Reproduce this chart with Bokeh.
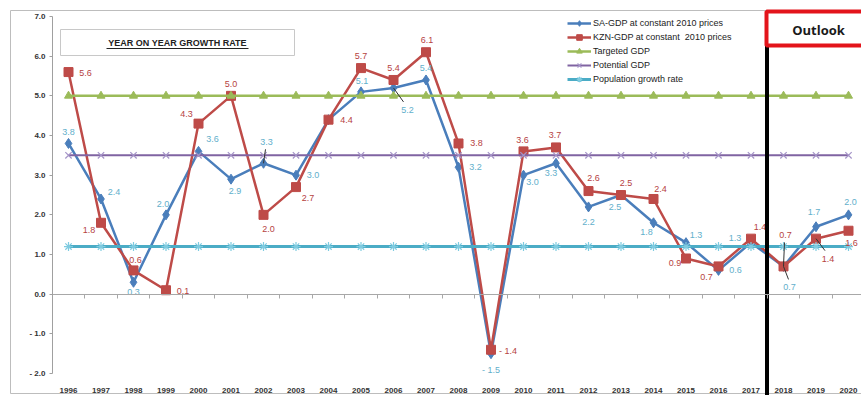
from bokeh.plotting import figure
from bokeh.models import LinearAxis, FixedTicker, Range1d, Legend, LegendItem
from bokeh.core.properties import value
from bokeh.embed import file_html
from bokeh.resources import INLINE

# ---------------- data ----------------
years = [1996, 1997, 1998, 1999, 2000, 2001, 2002, 2003, 2004, 2005, 2006, 2007, 2008,
         2009, 2010, 2011, 2012, 2013, 2014, 2015, 2016, 2017, 2018, 2019, 2020]
sa_gdp = [3.8, 2.4, 0.3, 2.0, 3.6, 2.9, 3.3, 3.0, 4.4, 5.1, 5.2, 5.4, 3.2,
          -1.5, 3.0, 3.3, 2.2, 2.5, 1.8, 1.3, 0.6, 1.3, 0.7, 1.7, 2.0]
kzn_gdp = [5.6, 1.8, 0.6, 0.1, 4.3, 5.0, 2.0, 2.7, 4.4, 5.7, 5.4, 6.1, 3.8,
           -1.4, 3.6, 3.7, 2.6, 2.5, 2.4, 0.9, 0.7, 1.4, 0.7, 1.4, 1.6]
targeted_gdp = [5.0, 5.0, 5.0, 5.0, 5.0, 5.0, 5.0, 5.0, 5.0, 5.0, 5.0, 5.0, 5.0,
                5.0, 5.0, 5.0, 5.0, 5.0, 5.0, 5.0, 5.0, 5.0, 5.0, 5.0, 5.0]
potential_gdp = [3.5, 3.5, 3.5, 3.5, 3.5, 3.5, 3.5, 3.5, 3.5, 3.5, 3.5, 3.5, 3.5,
                 3.5, 3.5, 3.5, 3.5, 3.5, 3.5, 3.5, 3.5, 3.5, 3.5, 3.5, 3.5]
population_growth = [1.2, 1.2, 1.2, 1.2, 1.2, 1.2, 1.2, 1.2, 1.2, 1.2, 1.2, 1.2, 1.2,
                     1.2, 1.2, 1.2, 1.2, 1.2, 1.2, 1.2, 1.2, 1.2, 1.2, 1.2, 1.2]
y_ticks = [-2, -1, 0, 1, 2, 3, 4, 5, 6, 7]
series_names = ["SA-GDP at constant 2010 prices", "KZN-GDP at constant  2010 prices",
                "Targeted GDP", "Potential GDP", "Population growth rate"]
sa_unlabelled = [2004]

# ---------------- label placement (screen px offsets) ----------------
sa_dx = [0, 13, 0, -3, 14, 4, 3, 17, 0, 1, 14, 0, 17, 0, 9, -5, 0, -6, -7, 10, 17, -16, 6, -2, 2]
sa_dy = [-11, -7, 10, -11, -12, 12, -21, 0, 0, -11, 22, -12, 0, 16, 7, 10, 15, 12, 9, -8, 0, -5, 21, -15, -13]
kzn_dx = [17, -12, 2, 17, -12, 0, 5, 12, 18, 0, 0, 1, 18, 17, -1, -1, 5, 5, 7, -11, -12, 9, 2, 12, 3]
kzn_dy = [1, 7, -10, 1, -10, -12, 14, 11, 0, -12, -12, -12, 0, 1, -11, -12, -13, -12, -10, 5, 11, -12, -31, 20, 12]
sa_leaders = {2002: (2, -14), 2006: (10, 14), 2018: (5, 13)}
kzn_leaders = {2018: (1, -24), 2019: (9, 12)}

# ---------------- styling ----------------
SA_C, KZN_C = "#4A7EBB", "#BE4B48"
TGT_C, POT_C, POP_C = "#9BBB59", "#8064A2", "#4BACC6"
SA_LBL, KZN_LBL = "#62AFCB", "#B6423F"
FONT = "Liberation Sans"

W, H = 861, 395
PXX, PXY = 32.5, 39.67
X0 = 1996 - 68 / PXX
YT = 293.7 / PXY


def xpx(px):
    return X0 + px / PXX


def ypx(py):
    return YT - py / PXY


p = figure(width=W, height=H, output_backend="svg", toolbar_location=None,
           x_range=Range1d(X0, X0 + W / PXX), y_range=Range1d(YT - H / PXY, YT),
           x_axis_type=None, y_axis_type=None, min_border=0,
           min_border_left=0, min_border_right=0, min_border_top=0, min_border_bottom=0,
           outline_line_color=None, background_fill_color="white", border_fill_color="white")
p.grid.visible = False

# outer chart border and title box
p.quad(left=xpx(10), right=xpx(880), top=ypx(10), bottom=ypx(393),
       fill_color=None, line_color="#BDBDBD", line_width=1)
p.quad(left=xpx(60), right=xpx(294), top=ypx(29), bottom=ypx(55),
       fill_color="white", line_color="#C8C8C8", line_width=1)
p.text(x=[xpx(177)], y=[ypx(42)], text=["YEAR ON YEAR GROWTH RATE"],
       text_align="center", text_baseline="middle", text_font=value(FONT),
       text_font_size="9px", text_font_style="bold", text_color="#222222")
p.segment(x0=[xpx(106)], y0=[ypx(48)], x1=[xpx(248)], y1=[ypx(48)],
          line_color="#222222", line_width=1)

# axes
yaxis = LinearAxis(fixed_location=xpx(52), bounds=(-2, 7),
                   ticker=FixedTicker(ticks=y_ticks),
                   major_label_overrides={t: ("- %.1f" % abs(t) if t < 0 else "%.1f" % t) for t in y_ticks},
                   axis_line_color="#A0A0A0", major_tick_line_color="#A0A0A0",
                   major_tick_out=3, major_tick_in=0, minor_tick_line_color=None,
                   major_label_text_font=FONT, major_label_text_font_size="8px",
                   major_label_text_font_style="bold", major_label_text_color="#333333",
                   major_label_standoff=4)
p.add_layout(yaxis, "left")

mid_ticks = [y + 0.5 for y in years[:-1]]
zaxis = LinearAxis(fixed_location=0, bounds=(X0 + 52 / PXX, X0 + W / PXX),
                   ticker=FixedTicker(ticks=mid_ticks),
                   major_label_overrides={t: "" for t in mid_ticks},
                   axis_line_color="#A8A8A8", major_tick_line_color="#A8A8A8",
                   major_tick_out=4, major_tick_in=0, minor_tick_line_color=None)
p.add_layout(zaxis, "below")

xaxis = LinearAxis(fixed_location=ypx(380), ticker=FixedTicker(ticks=years),
                   major_label_overrides={y: str(y) for y in years},
                   axis_line_color=None, major_tick_line_color=None, minor_tick_line_color=None,
                   major_label_text_font=FONT, major_label_text_font_size="8px",
                   major_label_text_font_style="bold", major_label_text_color="#333333",
                   major_label_standoff=1)
p.add_layout(xaxis, "below")

# series
r_sa_l = p.line(years, sa_gdp, line_color=SA_C, line_width=2.5)
r_sa_m = p.scatter(years, sa_gdp, marker="diamond", size=10, color=SA_C)
r_kz_l = p.line(years, kzn_gdp, line_color=KZN_C, line_width=2.5)
r_kz_m = p.scatter(years, kzn_gdp, marker="square", size=9, color=KZN_C)
r_tg_l = p.line(years, targeted_gdp, line_color=TGT_C, line_width=2.5)
r_tg_m = p.scatter(years, targeted_gdp, marker="triangle", size=8, color=TGT_C)
r_pt_l = p.line(years, potential_gdp, line_color=POT_C, line_width=2)
r_pt_m = p.scatter(years, potential_gdp, marker="x", size=9, line_color="#A594C8", line_width=1.2)
r_pp_l = p.line(years, population_growth, line_color=POP_C, line_width=3)
r_pp_m = p.scatter(years, population_growth, marker="asterisk", size=9, line_color="#7FCBE0", line_width=1.2)


def fmt(v):
    return ("- %.1f" % abs(v)) if v < 0 else "%.1f" % v


# leader lines
for leaders, vals in ((sa_leaders, sa_gdp), (kzn_leaders, kzn_gdp)):
    xs0, ys0, xs1, ys1 = [], [], [], []
    for yr, (dx, dy) in leaders.items():
        v = vals[years.index(yr)]
        xs0.append(yr)
        ys0.append(v)
        xs1.append(yr + dx / PXX)
        ys1.append(v - dy / PXY)
    p.segment(x0=xs0, y0=ys0, x1=xs1, y1=ys1, line_color="#333333", line_width=1)

# data labels
sa_idx = [i for i, y in enumerate(years) if y not in sa_unlabelled]
p.text(x=[years[i] for i in sa_idx], y=[sa_gdp[i] for i in sa_idx],
       text=[fmt(sa_gdp[i]) for i in sa_idx],
       x_offset=[sa_dx[i] for i in sa_idx], y_offset=[sa_dy[i] for i in sa_idx],
       text_align="center", text_baseline="middle", text_font=value(FONT),
       text_font_size="9px", text_color=SA_LBL)
p.text(x=years, y=kzn_gdp, text=[fmt(v) for v in kzn_gdp],
       x_offset=kzn_dx, y_offset=kzn_dy,
       text_align="center", text_baseline="middle", text_font=value(FONT),
       text_font_size="9px", text_color=KZN_LBL)

# outlook frame
p.segment(x0=[xpx(766.5)], y0=[ypx(44)], x1=[xpx(766.5)], y1=[ypx(396)],
          line_color="black", line_width=4)
p.quad(left=xpx(766), right=xpx(885), top=ypx(11), bottom=ypx(45),
       fill_color="white", line_color="#E3141B", line_width=4)
p.text(x=[xpx(818)], y=[ypx(29)], text=["Outlook"], text_align="center",
       text_baseline="middle", text_font=value("Open Sans"), text_font_size="13px",
       text_font_style="bold", text_color="#1A1A1A")

# legend
legend = Legend(items=[
    LegendItem(label=series_names[0], renderers=[r_sa_l, r_sa_m]),
    LegendItem(label=series_names[1], renderers=[r_kz_l, r_kz_m]),
    LegendItem(label=series_names[2], renderers=[r_tg_l, r_tg_m]),
    LegendItem(label=series_names[3], renderers=[r_pt_l, r_pt_m]),
    LegendItem(label=series_names[4], renderers=[r_pp_l, r_pp_m]),
], location=(567, 309), border_line_color=None, background_fill_alpha=0,
    label_text_font=FONT, label_text_font_size="9px", label_text_color="#222222",
    glyph_width=24, glyph_height=14, label_height=14, spacing=0, padding=2, margin=0,
    label_standoff=2)
p.add_layout(legend)

open("out.html", "w").write(file_html(p, INLINE))
